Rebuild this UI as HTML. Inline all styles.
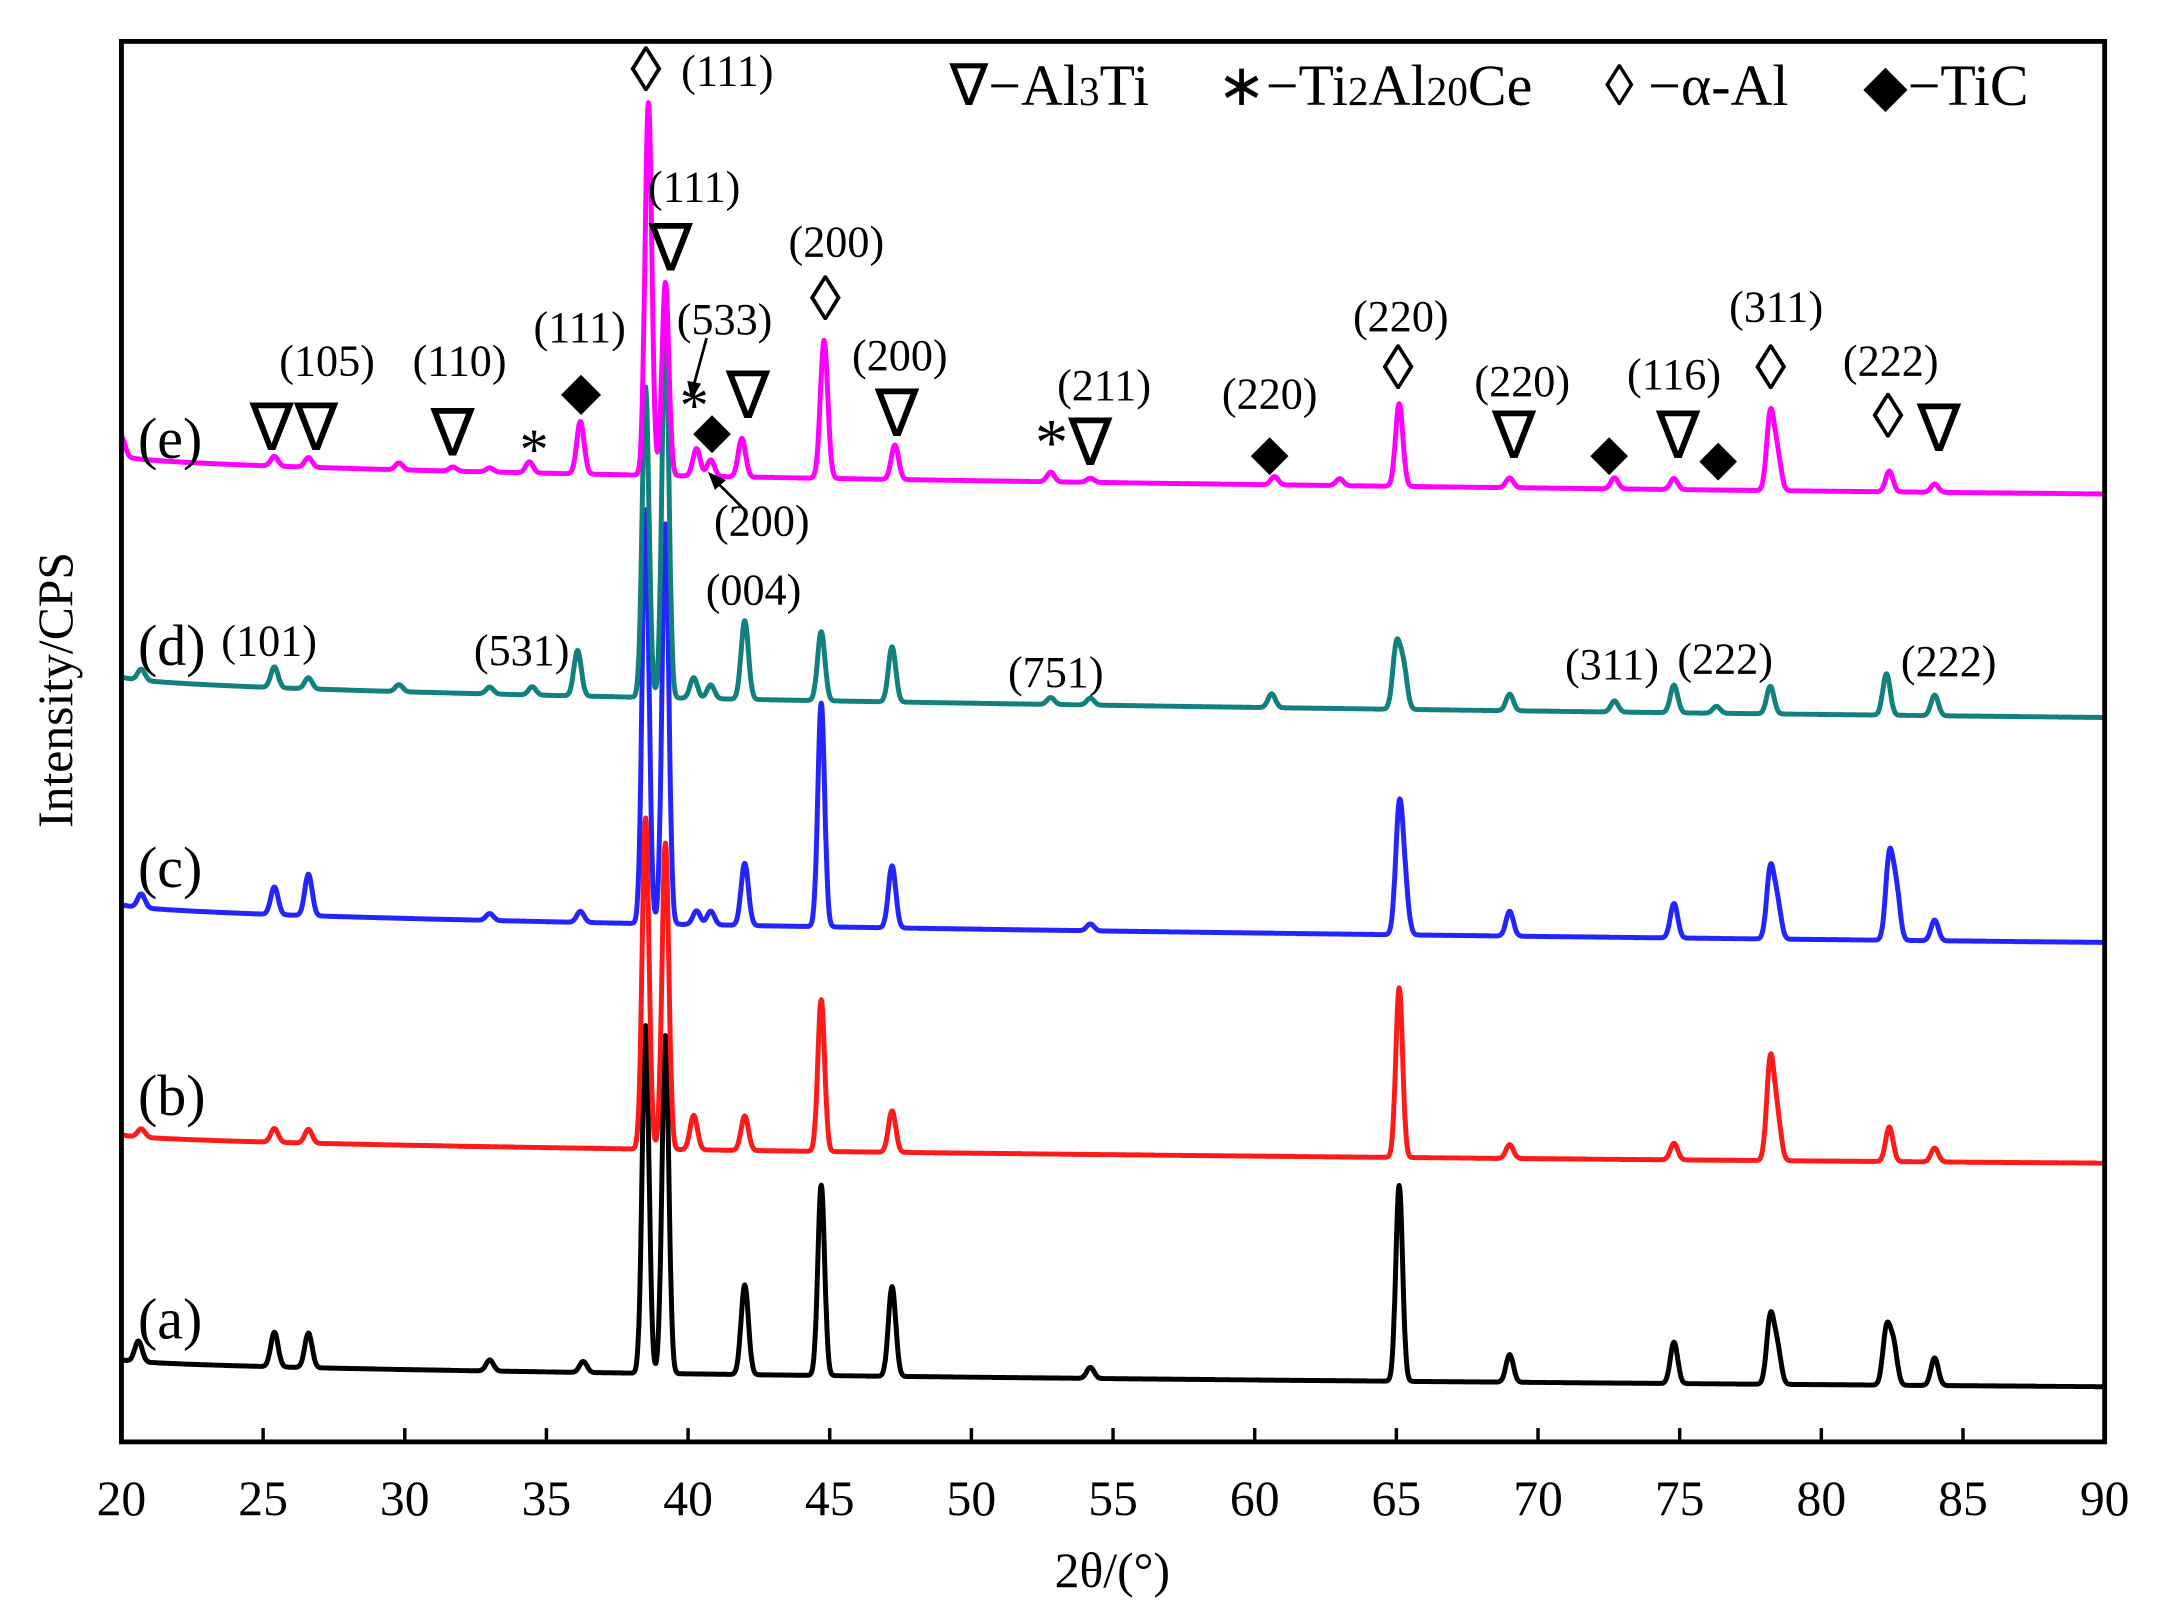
<!DOCTYPE html>
<html><head><meta charset="utf-8"><style>
html,body{margin:0;padding:0;background:#fff}
svg{display:block}
text{font-family:"Liberation Serif",serif;fill:#000}
</style></head><body>
<svg width="2164" height="1613" viewBox="0 0 1568 1169" preserveAspectRatio="none">
<g id="series"></g>
<rect x="88" y="30" width="1437" height="1015" fill="none" stroke="#000" stroke-width="3.5"/>
<g id="xticks"></g>
<text x="806" y="1150" font-size="36" text-anchor="middle">2θ/(°)</text>
<text transform="translate(52,500) rotate(-90)" font-size="36" text-anchor="middle">Intensity/CPS</text>
<g font-size="42">
<text x="688" y="76">∇−Al<tspan font-size="30">3</tspan>Ti</text>
<text x="882" y="76">∗−Ti<tspan font-size="30">2</tspan>Al<tspan font-size="30">20</tspan>Ce</text>
<text x="1163" y="76">◊ −α-Al</text>
<text x="1350" y="76">◆−TiC</text>
</g>
<g font-size="42">
<text x="100" y="332">(e)</text>
<text x="100" y="482">(d)</text>
<text x="100" y="643">(c)</text>
<text x="100" y="808">(b)</text>
<text x="100" y="970">(a)</text>
</g>
<g id="ann" text-anchor="middle"></g>
<line x1="512" y1="245" x2="503" y2="278" stroke="#000" stroke-width="2"/>
<polygon points="498,276 508,278 501,290" fill="#000"/>
<line x1="538" y1="368" x2="520" y2="350" stroke="#000" stroke-width="2"/>
<polygon points="513,342 526,348 518,355" fill="#000"/>
<script>
const xTicks=[20,25,30,35,40,45,50,55,60,65,70,75,80,85,90];
const seriesNames=['a','b','c','d','e'];
const seriesColors=['#000000','#ff1a1a','#2424ff','#138080','#ff00ff'];
const baseStart=[985,822,655,490,330];
const baseEnd=[1005,843,683,520,358];
const peaksA=[[20.6,15],[25.4,25],[26.6,25],[33,8],[36.3,8],[38.5,252],[39.2,245],[42,65],[44.7,138],[47.2,65],[54.2,8],[65.1,142],[69,20],[74.8,30],[78.2,48],[78.45,25],[82.3,40],[82.55,28],[84,20]];
const peaksB=[[20.7,6],[25.4,10],[26.6,10],[38.5,240],[39.2,222],[40.2,25],[42,25],[44.7,110],[47.2,30],[65.1,123],[69,10],[74.8,12],[78.2,72],[78.45,30],[82.4,25],[84,10]];
const peaksC=[[20.7,10],[25.4,20],[26.6,30],[33,5],[36.2,8],[38.5,300],[39.2,290],[40.3,10],[40.8,10],[42,45],[44.7,162],[47.2,45],[54.2,5],[65.1,88],[65.3,30],[69,18],[74.8,25],[78.2,50],[78.45,25],[82.4,60],[82.65,35],[84,15]];
const peaksD=[[20.7,8],[25.4,15],[26.6,8],[29.8,5],[33,5],[34.5,6],[36.1,33],[38.5,225],[39.2,275],[40.2,15],[40.8,10],[42,57],[44.7,50],[47.2,40],[52.8,5],[54.2,5],[60.6,10],[65,45],[65.25,30],[69,12],[72.7,8],[74.8,20],[76.3,5],[78.2,20],[82.3,30],[84,15]];
const peaksE=[[20,14],[25.4,7],[26.6,7],[29.8,5],[31.7,3],[33,3],[34.4,8],[36.2,38],[38.6,270],[39.2,140],[40.3,20],[40.8,12],[41.9,28],[44.8,100],[47.3,25],[52.8,7],[54.2,3],[60.7,6],[63,5],[65.1,60],[69,7],[72.7,8],[74.8,8],[78.2,55],[78.45,25],[82.4,15],[84,6]];
const allPeaks=[peaksA,peaksB,peaksC,peaksD,peaksE];
const NS='http://www.w3.org/2000/svg';
function xs(v){return 88+(v-20)*(1437/70);}
const g=document.getElementById('series');
for(let s=0;s<5;s++){
  let d='';
  for(let t=20;t<=90.0001;t+=0.02){
    const f=(t-20)/70;
    let y=baseStart[s]+(baseEnd[s]-baseStart[s])*Math.sqrt(f);
    for(const p of allPeaks[s]){const sg=(p[1]>100)?0.12:0.13;const dx=(t-p[0])/sg;y-=p[1]*Math.exp(-0.5*dx*dx);}
    d+=(d?'L':'M')+xs(t).toFixed(1)+','+y.toFixed(1);
  }
  const p=document.createElementNS(NS,'path');
  p.setAttribute('d',d);p.setAttribute('fill','none');p.setAttribute('stroke',seriesColors[s]);p.setAttribute('stroke-width','3.6');p.setAttribute('stroke-linejoin','round');
  
  
  g.appendChild(p);
}
const xt=document.getElementById('xticks');
for(const v of xTicks){
  const l=document.createElementNS(NS,'line');
  l.setAttribute('x1',xs(v));l.setAttribute('x2',xs(v));l.setAttribute('y1',1045);l.setAttribute('y2',1035);l.setAttribute('stroke','#000');l.setAttribute('stroke-width','2.5');
  
  
  xt.appendChild(l);
  const tx=document.createElementNS(NS,'text');
  tx.setAttribute('x',xs(v));tx.setAttribute('y',1098);tx.setAttribute('font-size','36');tx.setAttribute('text-anchor','middle');tx.textContent=v;
  
  
  xt.appendChild(tx);
}
const annText=[['(111)',527,62,32],['◊',468,66,46],['(111)',503,146,32],['∇',486,196,48],['(200)',606,186,32],['◊',598,232,46],['(200)',652,268,32],['∇',650,316,48],['(105)',237,272,32],['∇∇',213,326,48],['(110)',333,272,32],['∇',328,330,48],['(111)',420,248,32],['◆',421,296,38],['*',387,340,42],['(533)',525,242,32],['*',503,308,42],['◆',516,324,36],['∇',542,303,48],['(200)',552,388,32],['(211)',800,290,32],['*∇',778,337,48],['(220)',920,296,32],['◆',920,340,36],['(220)',1015,240,32],['◊',1013,282,46],['(220)',1103,287,32],['∇',1097,332,48],['(116)',1213,282,32],['∇',1216,332,48],['◆',1166,340,36],['◆',1245,344,36],['(311)',1287,233,32],['◊',1283,282,46],['(222)',1370,272,32],['◊',1368,317,46],['∇',1405,327,48],['(101)',195,475,32],['(531)',378,482,32],['(004)',546,438,32],['(751)',765,498,32],['(311)',1168,492,32],['(222)',1250,488,32],['(222)',1412,490,32]];
const an=document.getElementById('ann');
for(const a of annText){
  const tx=document.createElementNS(NS,'text');
  tx.setAttribute('x',a[1]);tx.setAttribute('y',a[2]);tx.setAttribute('font-size',a[3]);tx.textContent=a[0];
  
  
  an.appendChild(tx);
}
</script>
</svg>
</body></html>
